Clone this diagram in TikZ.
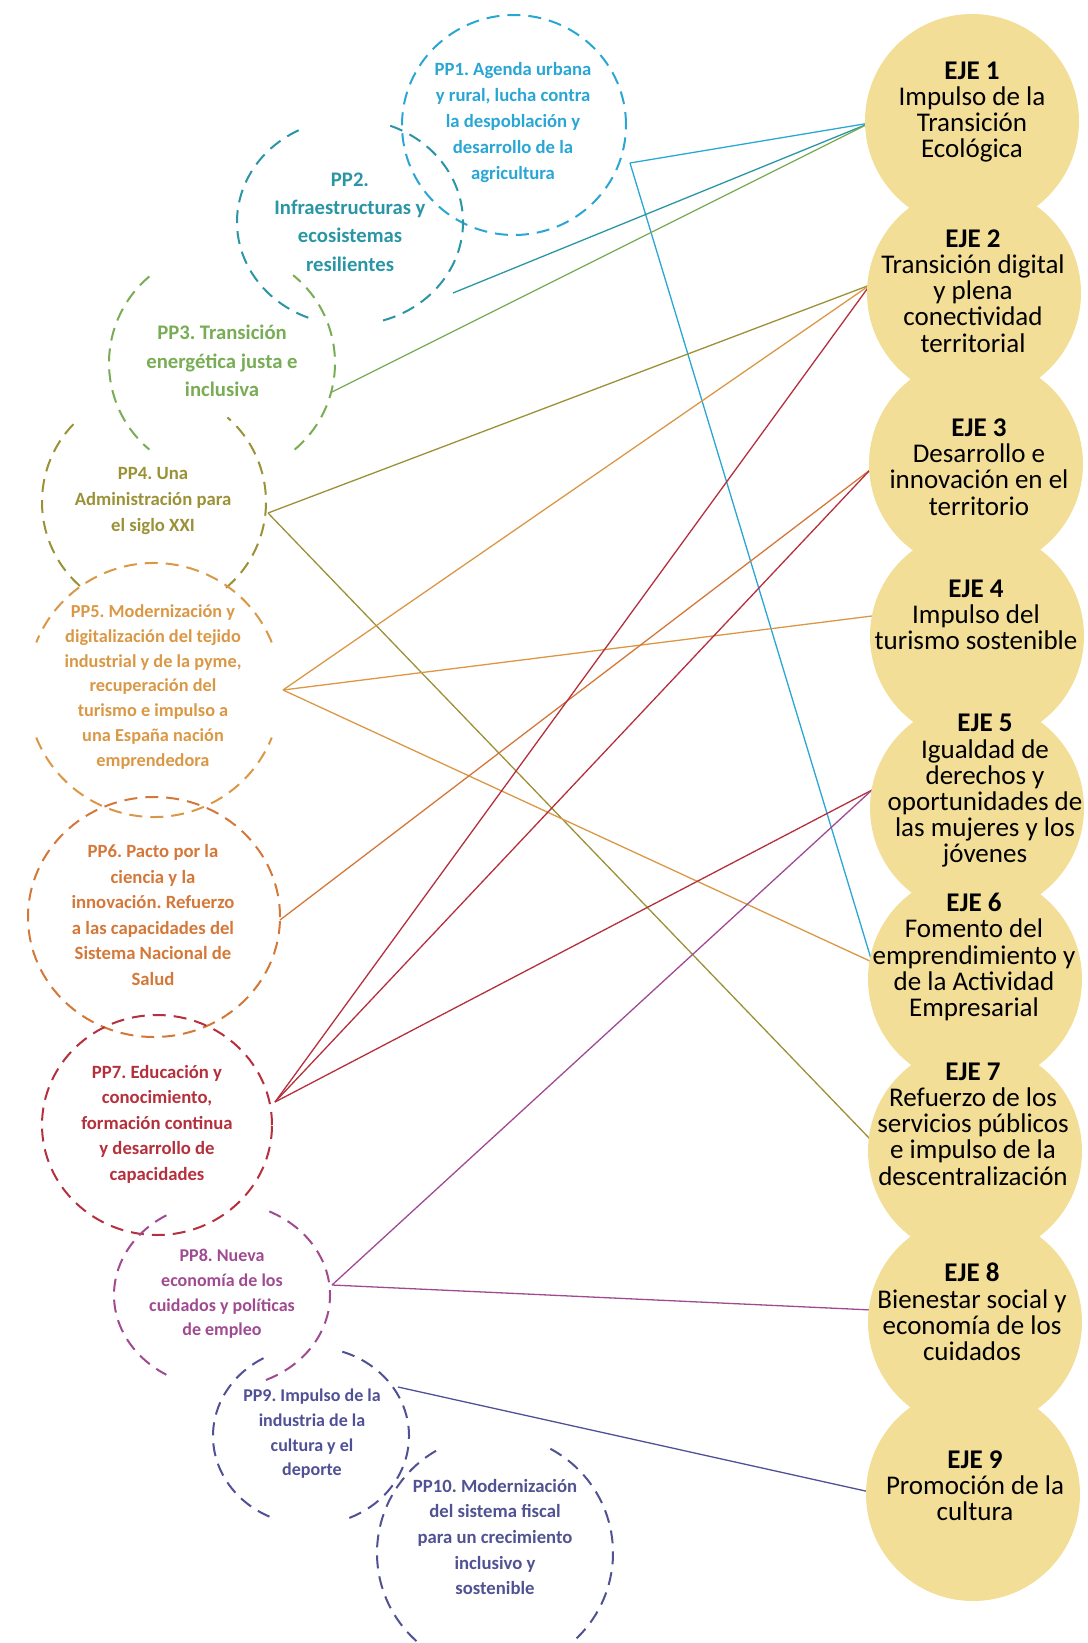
\documentclass[tikz,border=0pt]{standalone}
\usepackage{fontspec}
\setmainfont{Carlito}
\definecolor{cA}{RGB}{42,166,212}
\definecolor{cB}{RGB}{42,150,165}
\definecolor{cC}{RGB}{120,172,85}
\definecolor{cD}{RGB}{155,145,55}
\definecolor{cE}{RGB}{218,152,70}
\definecolor{cF}{RGB}{212,120,58}
\definecolor{cG}{RGB}{180,48,60}
\definecolor{cH}{RGB}{160,75,145}
\definecolor{cI}{RGB}{80,80,150}
\definecolor{cJ}{RGB}{80,82,145}
\definecolor{ejefill}{RGB}{242,222,150}
\frenchspacing
\begin{document}
\begin{tikzpicture}[x=1pt,y=1pt,
  ppline/.style={line width=2pt, dash pattern=on 13pt off 8pt},
  conn/.style={line width=1.3pt},
  pptext/.style={align=center, inner sep=0pt, font=\fontsize{18.7}{25.6}\selectfont\bfseries},
  ejetext/.style={align=center, inner sep=0pt, text=black, font=\fontsize{27}{26.2}\selectfont},
  ejecirc/.style={fill=ejefill}
]
\useasboundingbox (0,0) rectangle (1087,-1643);

% ---------- connector end points ----------
\coordinate (o1) at (630,-163);
\coordinate (o2) at (453,-293);
\coordinate (o3) at (332,-392);
\coordinate (o4) at (268,-513);
\coordinate (o5) at (283,-690);
\coordinate (o6) at (280,-920);
\coordinate (o7) at (275,-1102);
\coordinate (o8) at (332,-1285);
\coordinate (o9) at (398,-1387);

\coordinate (i1) at (870,-123);
\coordinate (i2) at (870,-285);
\coordinate (i3) at (870,-470);
\coordinate (i4) at (872,-616);
\coordinate (i5) at (872,-790);
\coordinate (i6) at (872,-962);
\coordinate (i7) at (870,-1139);
\coordinate (i8) at (872,-1310);
\coordinate (i9) at (870,-1492);

% ---------- connectors ----------
\draw[conn,cA] (o1) -- (i1);
\draw[conn,cA] (o1) -- (i6);
\draw[conn,cB] (o2) -- (i1);
\draw[conn,cC] (o3) -- (i1);
\draw[conn,cD] (o4) -- (i2);
\draw[conn,cD] (o4) -- (i7);
\draw[conn,cE] (o5) -- (i2);
\draw[conn,cE] (o5) -- (i4);
\draw[conn,cE] (o5) -- (i6);
\draw[conn,cF] (o6) -- (i3);
\draw[conn,cG] (o7) -- (i2);
\draw[conn,cG] (o7) -- (i3);
\draw[conn,cG] (o7) -- (i5);
\draw[conn,cH] (o8) -- (i5);
\draw[conn,cH] (o8) -- (i8);
\draw[conn,cI] (o9) -- (i9);

% ---------- EJE circles ----------
\fill[ejecirc] (972,-121) circle[radius=107pt];
\fill[ejecirc] (974,-293) circle[radius=107pt];
\fill[ejecirc] (976,-464) circle[radius=107pt];
\fill[ejecirc] (977,-636) circle[radius=107pt];
\fill[ejecirc] (977,-808) circle[radius=107pt];
\fill[ejecirc] (975,-979) circle[radius=107pt];
\fill[ejecirc] (975,-1151) circle[radius=107pt];
\fill[ejecirc] (975,-1322) circle[radius=107pt];
\fill[ejecirc] (973,-1494) circle[radius=107pt];

\node[ejetext] (eje1) at (972,-112) {\textbf{EJE 1}\\Impulso de la\\Transición\\Ecológica};
\node[ejetext] (eje2) at (973,-291) {\textbf{EJE 2}\\Transición digital\\y plena\\conectividad\\territorial};
\node[ejetext] (eje3) at (979,-467) {\textbf{EJE 3}\\Desarrollo e\\innovación en el\\territorio};
\node[ejetext] (eje4) at (976,-615) {\textbf{EJE 4}\\Impulso del\\turismo sostenible};
\node[ejetext] (eje5) at (985,-791) {\textbf{EJE 5}\\Igualdad de\\derechos y\\oportunidades de\\las mujeres y los\\jóvenes};
\node[ejetext] (eje6) at (974,-957) {\textbf{EJE 6}\\Fomento del\\emprendimiento y\\de la Actividad\\Empresarial};
\node[ejetext] (eje7) at (973,-1124) {\textbf{EJE 7}\\Refuerzo de los\\servicios públicos\\e impulso de la\\descentralización};
\node[ejetext] (eje8) at (972,-1312) {\textbf{EJE 8}\\Bienestar social y\\economía de los\\cuidados};
\node[ejetext] (eje9) at (975,-1486) {\textbf{EJE 9}\\Promoción de la\\cultura};

% ---------- PP dashed outlines ----------
\draw[ppline,cA] (514,-125) ellipse[x radius=112pt, y radius=110pt];
\draw[ppline,cB] ([shift={(117:113pt and 103pt)}]350,-222) arc[start angle=117,end angle=249,x radius=113pt,y radius=103pt];
\draw[ppline,cB] ([shift={(287:113pt and 103pt)}]350,-222) arc[start angle=287,end angle=432,x radius=113pt,y radius=103pt];
\draw[ppline,cC] ([shift={(130:113pt)}]222,-363) arc[start angle=130,end angle=230,radius=113pt];
\draw[ppline,cC] ([shift={(310:113pt)}]222,-363) arc[start angle=310,end angle=411,radius=113pt];
\draw[ppline,cD] ([shift={(136:112pt)}]154,-502) arc[start angle=136,end angle=230,radius=112pt];
\draw[ppline,cD] ([shift={(310:112pt)}]154,-502) arc[start angle=310,end angle=409,radius=112pt];
\draw[ppline,cE] ([shift={(22:127pt)}]154,-690) arc[start angle=22,end angle=158,radius=127pt];
\draw[ppline,cE] ([shift={(202:127pt)}]154,-690) arc[start angle=202,end angle=338,radius=127pt];
\draw[ppline,cF] (154,-917) ellipse[x radius=126pt, y radius=120pt];
\draw[ppline,cG] (157,-1125) ellipse[x radius=115pt, y radius=110pt];
\draw[ppline,cH] ([shift={(121:108pt and 93pt)}]222,-1295) arc[start angle=121,end angle=239,x radius=108pt,y radius=93pt];
\draw[ppline,cH] ([shift={(294:108pt and 93pt)}]222,-1295) arc[start angle=294,end angle=424,x radius=108pt,y radius=93pt];
\draw[ppline,cI] ([shift={(119:98pt and 89pt)}]311,-1436) arc[start angle=119,end angle=247,x radius=98pt,y radius=89pt];
\draw[ppline,cI] ([shift={(293:98pt and 89pt)}]311,-1436) arc[start angle=293,end angle=432,x radius=98pt,y radius=89pt];
\draw[ppline,cJ] ([shift={(120:118pt)}]495,-1553) arc[start angle=120,end angle=424,radius=118pt];

% ---------- PP texts ----------
\node[pptext,text=cA,font=\fontsize{18.7}{26}\selectfont\bfseries] (pp1) at (513,-123) {PP1. Agenda urbana\\y rural, lucha contra\\la despoblación y\\desarrollo de la\\agricultura};
\node[pptext,text=cB,font=\fontsize{20.7}{28.2}\selectfont\bfseries] (pp2) at (350,-222) {PP2.\\Infraestructuras y\\ecosistemas\\resilientes};
\node[pptext,text=cC,font=\fontsize{20.7}{28.6}\selectfont\bfseries] (pp3) at (222,-361) {PP3. Transición\\energética justa e\\inclusiva};
\node[pptext,text=cD,font=\fontsize{18.7}{26}\selectfont\bfseries] (pp4) at (153,-501) {PP4. Una\\Administración para\\el siglo XXI};
\node[pptext,text=cE,font=\fontsize{18.3}{24.7}\selectfont\bfseries] (pp5) at (153,-687) {PP5. Modernización y\\digitalización del tejido\\industrial y de la pyme,\\recuperación del\\turismo e impulso a\\una España nación\\emprendedora};
\node[pptext,text=cF,font=\fontsize{18.7}{25.6}\selectfont\bfseries] (pp6) at (153,-915) {PP6. Pacto por la\\ciencia y la\\innovación. Refuerzo\\a las capacidades del\\Sistema Nacional de\\Salud};
\node[pptext,text=cG,font=\fontsize{18.7}{25.5}\selectfont\bfseries] (pp7) at (157,-1124) {PP7. Educación y\\conocimiento,\\formación continua\\y desarrollo de\\capacidades};
\node[pptext,text=cH,font=\fontsize{18}{24.7}\selectfont\bfseries] (pp8) at (222,-1294) {PP8. Nueva\\economía de los\\cuidados y políticas\\de empleo};
\node[pptext,text=cI,font=\fontsize{18}{24.7}\selectfont\bfseries] (pp9) at (312,-1434) {PP9. Impulso de la\\industria de la\\cultura y el\\deporte};
\node[pptext,text=cJ,font=\fontsize{18.7}{25.7}\selectfont\bfseries] (pp10) at (495,-1537) {PP10. Modernización\\del sistema fiscal\\para un crecimiento\\inclusivo y\\sostenible};
\end{tikzpicture}
\end{document}
